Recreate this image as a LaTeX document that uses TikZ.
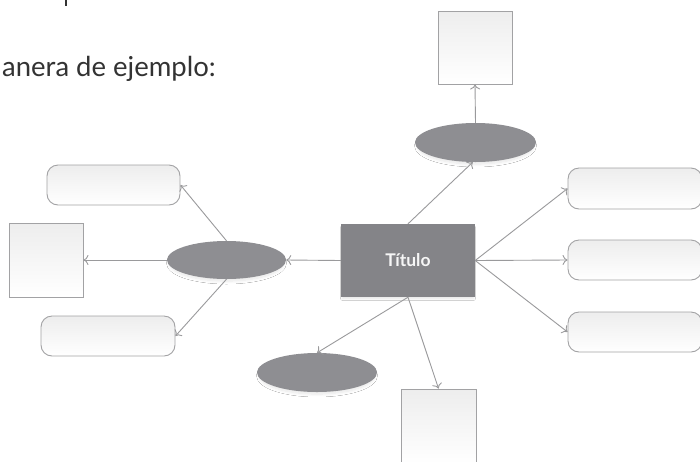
\documentclass[tikz,border=0pt]{standalone}
\usepackage{fontspec}
\setmainfont{Lato}
\usetikzlibrary{arrows.meta,shadows.blur,shapes.geometric}
\definecolor{txtgray}{HTML}{333333}
\definecolor{titlefill}{HTML}{848488}
\definecolor{ellfill}{HTML}{8E8E92}
\definecolor{linegray}{HTML}{9A9A9C}
\definecolor{boxline}{HTML}{A2A2A4}
\begin{document}
\begin{tikzpicture}[x=1pt,y=1pt,
  ellnode/.style={ellipse,fill=ellfill,draw=none,inner sep=0pt,
    blur shadow={shadow xshift=0pt,shadow yshift=-3pt,shadow scale=0.96,shadow blur radius=3pt,shadow blur steps=8,shadow opacity=10}},
  boxnode/.style={draw=boxline,line width=0.9pt,inner sep=0pt,
    shading=axis,shading angle=135,top color=gray!14,bottom color=white},
  rboxnode/.style={boxnode,rounded corners=11pt},
  conn/.style={draw=linegray,line width=0.9pt,-{To[length=5pt,width=10pt]}},
]
\useasboundingbox (0,0) rectangle (700,-461);
\fill[white] (0,0) rectangle (700,-461);

% remnant of previous line of text
\draw[txtgray,line width=1.6pt] (66,0) -- (66,-6);
\node[anchor=base west,inner sep=0pt,text=txtgray,font=\fontsize{27.5}{30}\selectfont] (lead) at (2,-76.5) {anera de ejemplo:};

% central title
\node[rectangle,fill=titlefill,minimum width=134pt,minimum height=73pt,inner sep=0pt,
  text=white!93!gray,font=\bfseries\fontsize{17.5}{20}\selectfont,
  blur shadow={shadow xshift=0pt,shadow yshift=-2.5pt,shadow scale=0.98,shadow blur radius=2pt,shadow blur steps=6,shadow opacity=10}]
  (title) at (408,-260.5) {Título};

% ellipses
\node[ellnode,minimum width=119pt,minimum height=38pt] (eL) at (226.5,-260) {};
\node[ellnode,minimum width=121pt,minimum height=39pt] (eT) at (475.5,-142.5) {};
\node[ellnode,minimum width=120pt,minimum height=39pt] (eB) at (317,-372.5) {};

% boxes
\node[rboxnode,minimum width=133pt,minimum height=40pt] (rTL) at (113.5,-185) {};
\node[boxnode,minimum width=74pt,minimum height=74pt] (sqL) at (46,-260) {};
\node[rboxnode,minimum width=134pt,minimum height=40pt] (rBL) at (108,-336) {};
\node[boxnode,minimum width=74pt,minimum height=73pt] (sqT) at (475,-47.5) {};
\node[rboxnode,minimum width=134pt,minimum height=41pt] (rR1) at (635,-188.5) {};
\node[rboxnode,minimum width=134pt,minimum height=40pt] (rR2) at (635,-260) {};
\node[rboxnode,minimum width=134pt,minimum height=40pt] (rR3) at (635,-332) {};
\node[boxnode,minimum width=75pt,minimum height=75pt] (sqB) at (438.5,-426.5) {};

% connectors
\draw[conn] (title.west) -- (eL.east);
\draw[conn] (title.north) -- (eT.262);
\draw[conn] (title.east) -- (rR1.west);
\draw[conn] (title.east) -- (rR2.west);
\draw[conn] (title.east) -- (rR3.west);
\draw[conn] (title.south) -- (eB.north);
\draw[conn] (title.south) -- (sqB.north);
\draw[conn] (eT.north) -- (sqT.south);
\draw[conn] (eL.north) -- (rTL.east);
\draw[conn] (eL.west) -- (sqL.east);
\draw[conn] (eL.south) -- (rBL.east);
\end{tikzpicture}
\end{document}
